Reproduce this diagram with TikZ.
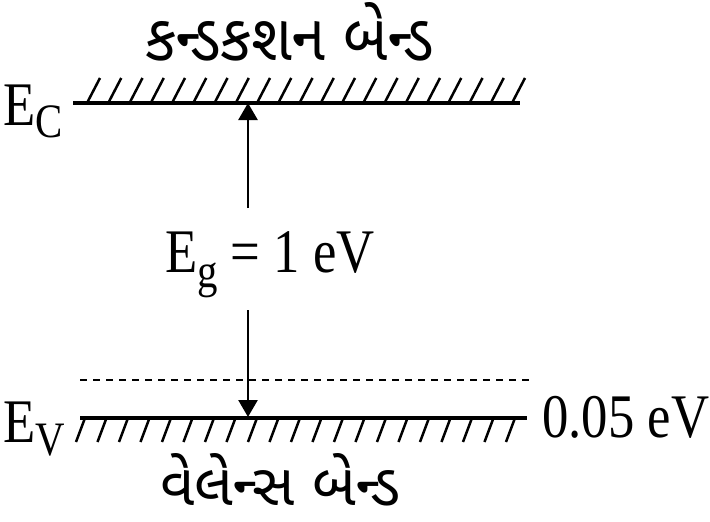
\documentclass[tikz,border=0pt]{standalone}
\usepackage{fontspec}
\setmainfont{Liberation Serif}
\newfontfamily\guj[Script=Gujarati]{Noto Sans Gujarati UI}
\usetikzlibrary{arrows.meta}
\newcommand{\cond}[1]{\scalebox{0.85}[1]{#1}}
\newcommand{\subfont}{\fontsize{48}{48}\selectfont}
\tikzset{
  band/.style={line width=3.2pt},
  hatchline/.style={line width=2.5pt},
  gapline/.style={line width=2.2pt, dash pattern=on 7pt off 6pt},
  arr/.style={line width=2.6pt, -{Triangle[length=17pt,width=19pt]}},
  lbl/.style={inner sep=0pt, anchor=base west, font=\fontsize{62}{62}\selectfont},
  gujlbl/.style={inner sep=0pt, anchor=base west, font=\guj\fontsize{40}{40}\selectfont},
}
\begin{document}
\begin{tikzpicture}[x=1pt,y=-1pt]
\useasboundingbox (0,0) rectangle (710,522);
% conduction band
\coordinate (cl) at (73,103);
\coordinate (cr) at (520,103);
\draw[band] (cl) -- (cr);
\foreach \k in {0,...,20} \draw[hatchline] ({87+21.25*\k},103) -- ++(13,-25);
% valence band
\coordinate (vl) at (80,418);
\coordinate (vr) at (527,418);
\draw[band] (vl) -- (vr);
\foreach \k in {0,...,20} \draw[hatchline] ({85+21.5*\k},418) -- ++(-9,24);
% acceptor level
\coordinate (dl) at (80,380);
\coordinate (dr) at (533,380);
\draw[gapline] (dl) -- (dr);
% labels
\node[lbl] (ec) at (3,125) {\cond{E\raisebox{-12pt}{\subfont C}}};
\node[lbl] (ev) at (3,442) {\cond{E\raisebox{-13pt}{\subfont V}}};
\node[lbl] (eg) at (165,272) {\cond{E\raisebox{-15pt}{\subfont g} = 1 eV}};
\node[lbl] (dv) at (542,437) {\cond{0.05 eV}};
\node[gujlbl] (cb) at (145,60) {\resizebox{288pt}{58pt}{કન્ડકશન બેન્ડ}};
\node[gujlbl] (vb) at (160,505) {\resizebox{240pt}{52pt}{વેલેન્સ બેન્ડ}};
% arrows
\coordinate (ctop) at (248,103);
\coordinate (ctail) at (248,208);
\coordinate (vtail) at (248,310);
\coordinate (vbot) at (248,417);
\draw[arr] (ctail) -- (ctop);
\draw[arr] (vtail) -- (vbot);
\end{tikzpicture}
\end{document}
